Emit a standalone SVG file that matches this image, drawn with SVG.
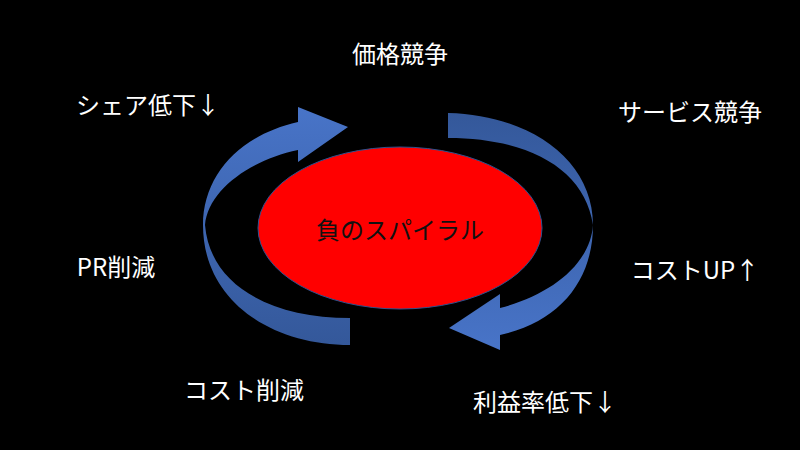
<svg xmlns="http://www.w3.org/2000/svg" width="800" height="450" viewBox="0 0 800 450">
<style>
.l{fill:#fff;font-family:"Noto Sans CJK JP","Noto Sans",sans-serif;font-size:24px;text-anchor:middle;dominant-baseline:central}
</style>
<defs>
<linearGradient id="gl" x1="0" y1="0" x2="0" y2="1"><stop offset="0" stop-color="#4874C8"/><stop offset="1" stop-color="#34589A"/></linearGradient>
<linearGradient id="gr" x1="0" y1="0" x2="0" y2="1"><stop offset="0" stop-color="#34589A"/><stop offset="1" stop-color="#4874C8"/></linearGradient>
</defs>
<rect width="800" height="450" fill="#000"/>
<g id="connectors">
<path id="arrow-left" fill="url(#gl)" d="M350,345 C270,345 203,300 203,225 C203,175 240,135 298,122 L298,107 L348,127 L298,162 L298,150 C250,160 208,190 205,225 C210,285 270,318 350,318 Z"/>
<path id="arrow-right" fill="url(#gr)" d="M448,113 C530,115 593,160 593,225 C593,280 560,322 500,335 L500,350 L449,328 L500,294 L500,308 C550,295 590,265 593,225 C585,170 530,138 448,138 Z"/>
</g>
<g id="center">
<ellipse cx="400" cy="228" rx="142" ry="81" fill="#f00" stroke="#2F528F" stroke-width="1"/>
<text class="l" x="400" y="228" style="fill:#111">負のスパイラル</text>
</g>
<g id="n1"><text class="l" x="400" y="52">価格競争</text></g>
<g id="n2"><text class="l" x="690" y="110">サービス競争</text></g>
<g id="n3"><text class="l" x="695" y="268">コストUP↑</text></g>
<g id="n4"><text class="l" x="545" y="400">利益率低下↓</text></g>
<g id="n5"><text class="l" x="244" y="388">コスト削減</text></g>
<g id="n6"><text class="l" x="116" y="265">PR削減</text></g>
<g id="n7"><text class="l" x="148" y="103">シェア低下↓</text></g>
</svg>
